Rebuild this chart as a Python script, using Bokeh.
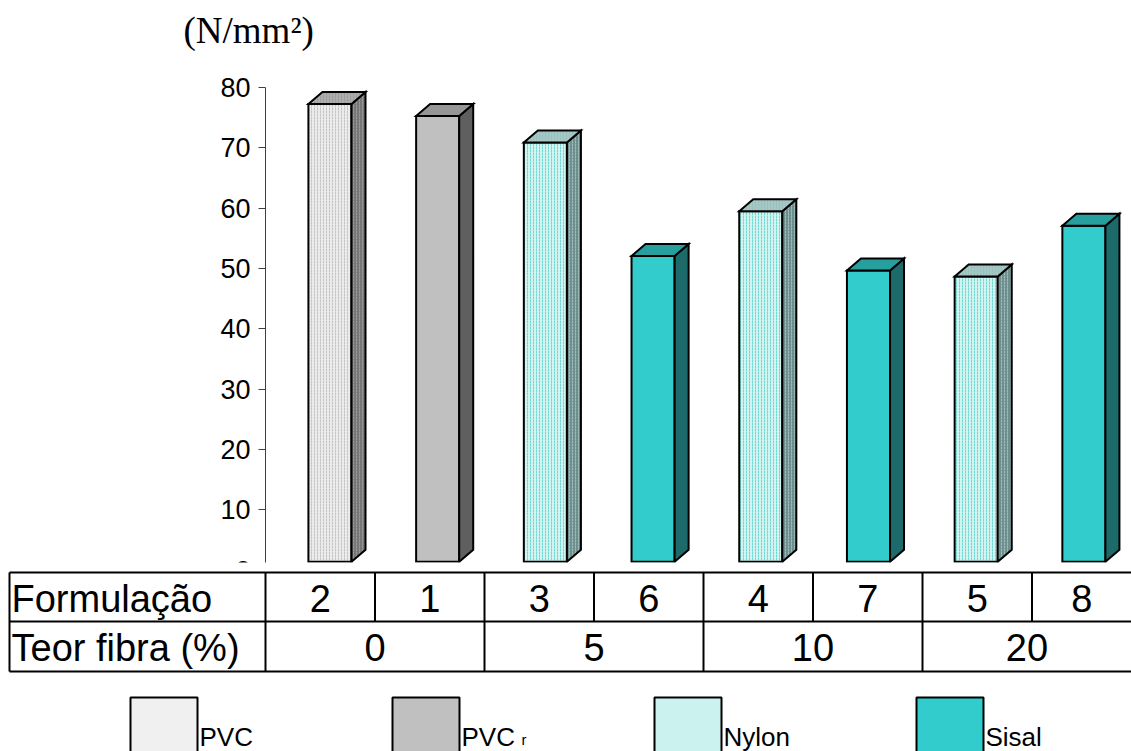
import numpy as np
from bokeh.plotting import figure
from bokeh.models import Range1d, LinearAxis, FixedTicker, ColumnDataSource
from bokeh.core.properties import value
from bokeh.embed import file_html
from bokeh.resources import INLINE

# ---------------- data ----------------
formulacao = ["2", "1", "3", "6", "4", "7", "5", "8"]
material = ["PVC", "PVC_r", "Nylon", "Sisal", "Nylon", "Sisal", "Nylon", "Sisal"]
resistencia = [77.3, 75.3, 70.9, 52.1, 59.5, 49.7, 48.7, 57.1]
teor_fibra = ["0", "5", "10", "20"]
y_ticks = [0, 10, 20, 30, 40, 50, 60, 70, 80]
unit_label = "(N/mm²)"
row_headers = ["Formulação", "Teor fibra (%)"]
legend_keys = ["PVC", "PVC_r", "Nylon", "Sisal"]
legend_names = ["PVC", "PVC", "Nylon", "Sisal"]
legend_subs = ["", "r", "", ""]

# ---------------- styles ----------------
front_col = {"PVC": "#ebebeb", "PVC_r": "#c0c0c0", "Nylon": "#d3f3f1", "Sisal": "#33cccc"}
side_col = {"PVC": "#777777", "PVC_r": "#5f5f5f", "Nylon": "#6f8f8e", "Sisal": "#1c6a6a"}
top_col = {"PVC": "#adadad", "PVC_r": "#969696", "Nylon": "#a3c8c6", "Sisal": "#289f9f"}
front_hatch = {"PVC": "#c4c4c4", "PVC_r": "#c0c0c0", "Nylon": "#6fd8d2", "Sisal": "#33cccc"}
side_hatch = {"PVC": "#9a9a9a", "PVC_r": "#5f5f5f", "Nylon": "#9dbdbb", "Sisal": "#1c6a6a"}
legend_fill = {"PVC": "#f0f0f0", "PVC_r": "#c0c0c0", "Nylon": "#ccf2f0", "Sisal": "#33cccc"}
textured = {"PVC": True, "PVC_r": False, "Nylon": True, "Sisal": False}

W = 1131
H = 751
FONT = "Liberation Sans"
floor = 1.4          # visible floor of the 3D bars (value units)
axis_x = -0.599      # position of the value axis (category units)

p = figure(width=W, height=H, output_backend="svg", toolbar_location=None,
           x_range=Range1d(-3.059, 7.442), y_range=Range1d(-30.08, 94.46),
           min_border_left=0, min_border_right=0, min_border_top=0, min_border_bottom=0,
           x_axis_location=None, y_axis_location=None)
p.outline_line_color = None
p.background_fill_color = "white"
p.xgrid.visible = False
p.ygrid.visible = False
# pixel ranges for the table / legend / unit label
p.extra_x_ranges = {"px": Range1d(0, W)}
p.extra_y_ranges = {"px": Range1d(H, 0)}
kw = dict(x_range_name="px", y_range_name="px")

# ---------------- value axis ----------------
yaxis = LinearAxis(ticker=FixedTicker(ticks=y_ticks), bounds=(0, 80),
                   fixed_location=axis_x)
yaxis.level = "underlay"
yaxis.axis_line_color = "#404040"
yaxis.axis_line_width = 1
yaxis.major_tick_line_color = "#404040"
yaxis.major_tick_out = 7
yaxis.major_tick_in = 0
yaxis.minor_tick_line_color = None
yaxis.major_label_text_font = FONT
yaxis.major_label_text_font_size = "27px"
yaxis.major_label_text_color = "black"
yaxis.major_label_standoff = 8
p.add_layout(yaxis, "left")

# ---------------- 3D bars ----------------
xs = np.arange(len(resistencia), dtype=float)
vals = np.array(resistencia)
hw = 0.2
dx = 14 / 107.7
dy = 12 / 6.03

pat = [":" if textured[m] else " " for m in material]
front_src = ColumnDataSource(dict(
    x=xs, top=vals,
    fill=[front_col[m] for m in material],
    hatch=pat,
    hcol=[front_hatch[m] for m in material]))

side_xs, side_ys, top_xs, top_ys = [], [], [], []
for x, v in zip(xs, vals):
    xr = x + hw
    side_xs.append([xr, xr + dx, xr + dx, xr])
    side_ys.append([floor, floor + dy, v + dy, v])
    top_xs.append([x - hw, x - hw + dx, xr + dx, xr])
    top_ys.append([v, v + dy, v + dy, v])

side_src = ColumnDataSource(dict(xs=side_xs, ys=side_ys,
                                 fill=[side_col[m] for m in material],
                                 hatch=pat,
                                 hcol=[side_hatch[m] for m in material]))
top_src = ColumnDataSource(dict(xs=top_xs, ys=top_ys,
                                fill=[top_col[m] for m in material],
                                hatch=pat,
                                hcol=[side_hatch[m] for m in material]))

p.vbar(x="x", top="top", bottom=floor, width=2 * hw, source=front_src,
       fill_color="fill", hatch_pattern="hatch", hatch_color="hcol", hatch_scale=3,
       hatch_weight=1, line_color="black", line_width=2, line_join="miter")
p.patches(xs="xs", ys="ys", source=side_src, fill_color="fill",
          hatch_pattern="hatch", hatch_color="hcol", hatch_scale=3, hatch_weight=1,
          line_color="black", line_width=2, line_join="miter")
p.patches(xs="xs", ys="ys", source=top_src, fill_color="fill",
          hatch_pattern="hatch", hatch_color="hcol", hatch_scale=3, hatch_weight=1,
          line_color="black", line_width=2, line_join="miter")

# unit label
p.text(x=[183], y=[30], text=[unit_label], **kw,
       text_font=value("Liberation Serif"), text_font_size="37px", text_color="black",
       text_align="left", text_baseline="middle")

# ---------------- table ----------------
col0 = 265.0
colw = 109.5
right_edge = float(W)
row_y = [572, 621, 671]
text_y = [598, 647]
left_edge = 9.0
chart_clip = 562.0

# white area below the chart (hides what lies under the plot area's bottom)
p.quad(left=[0], right=[W], top=[chart_clip], bottom=[H], fill_color="white",
       line_color=None, **kw)

t_lines = dict(line_color="black", line_width=2)
p.segment(x0=[left_edge] * 3, y0=row_y, x1=[right_edge] * 3, y1=row_y, **kw, **t_lines)
p.segment(x0=[left_edge], y0=[row_y[0]], x1=[left_edge], y1=[row_y[2]], **kw, **t_lines)
n = len(formulacao)
cx = [col0 + colw * k for k in range(n)]
p.segment(x0=cx, y0=[row_y[0]] * n, x1=cx, y1=[row_y[1]] * n, **kw, **t_lines)
group_size = n // len(teor_fibra)
gx = [col0 + colw * k for k in range(0, n, group_size)]
p.segment(x0=gx, y0=[row_y[1]] * len(gx), x1=gx, y1=[row_y[2]] * len(gx), **kw, **t_lines)

tfont = dict(text_font=value(FONT), text_font_size="38px", text_color="black",
             text_baseline="middle")
p.text(x=[11, 11], y=text_y, text=row_headers, text_align="left", **kw, **tfont)
fx = [(col0 + colw * i + min(col0 + colw * (i + 1), right_edge)) / 2 for i in range(n)]
p.text(x=fx, y=[text_y[0]] * n, text=formulacao, text_align="center", **kw, **tfont)
tx = [(col0 + colw * g * group_size + min(col0 + colw * (g + 1) * group_size, right_edge)) / 2
      for g in range(len(teor_fibra))]
p.text(x=tx, y=[text_y[1]] * len(teor_fibra), text=teor_fibra, text_align="center",
       **kw, **tfont)

# ---------------- legend ----------------
lx0 = 130.0
lstep = 262.0
lw = 67.0
lleft = [lx0 + lstep * j for j in range(len(legend_keys))]
p.quad(left=lleft, right=[l + lw for l in lleft], top=[697] * 4, bottom=[780] * 4,
       fill_color=[legend_fill[k] for k in legend_keys], line_color="black", line_width=2,
       **kw)
p.text(x=[l + lw + 2 for l in lleft], y=[736] * 4, text=legend_names,
       text_font=value(FONT), text_font_size="26px", text_align="left",
       text_baseline="middle", text_color="black", **kw)
p.text(x=[l + lw + 62 for l in lleft], y=[739] * 4, text=legend_subs,
       text_font=value(FONT), text_font_size="15px", text_align="left",
       text_baseline="middle", text_color="black", **kw)

open("out.html", "w").write(file_html(p, INLINE))
